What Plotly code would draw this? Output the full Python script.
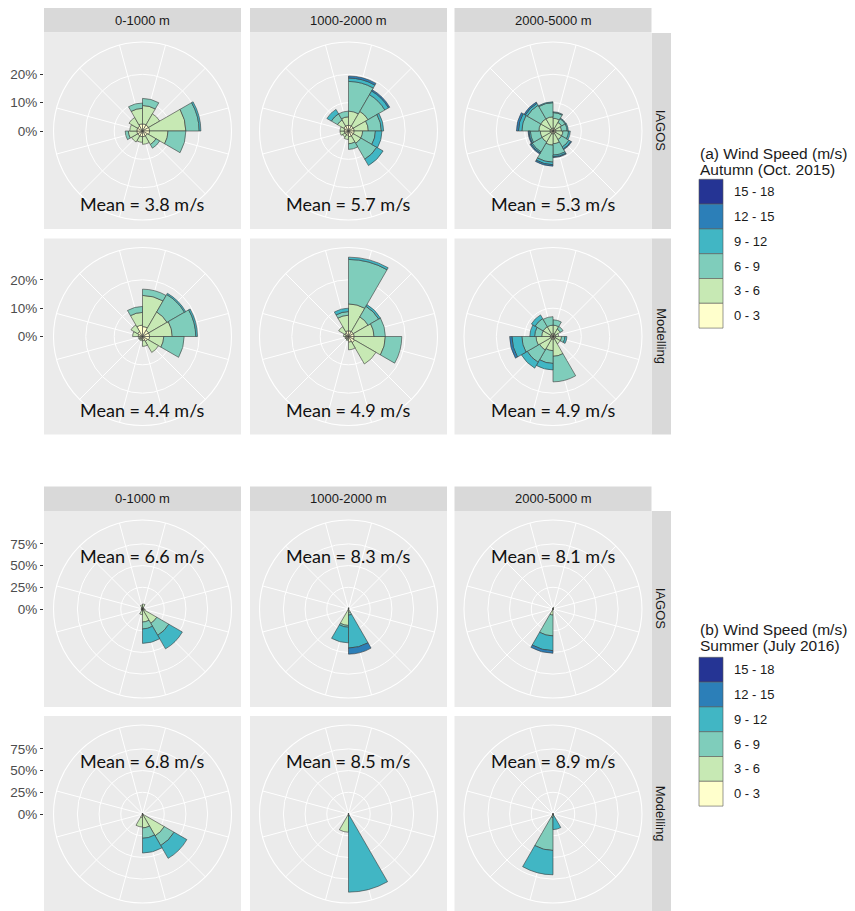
import plotly.graph_objects as go

# page body has an 8px margin: the figure is sized so that it fills the 855x911 window
OFF = 8
W, H = 855 - OFF, 911 - OFF

# ---------------- data ----------------
SPEED_BINS = ["0 - 3", "3 - 6", "6 - 9", "9 - 12", "12 - 15", "15 - 18"]
BIN_COLORS = ["#ffffcc", "#c7e9b4", "#7fcdbb", "#41b6c4", "#2c7fb8", "#253494"]
SECTOR_CENTRES = [15, 45, 75, 105, 135, 165, 195, 225, 255, 285, 315, 345]
ALTITUDES = ["0-1000 m", "1000-2000 m", "2000-5000 m"]
SOURCES = ["IAGOS", "Modelling"]

# frequency (%) : one row per direction sector, columns = speed bins (0-3 ... 15-18)
AUT_IAGOS_0_1000 = [
    [2.5, 6.5, 2.5], [2.5, 4.5], [2.5, 12.8, 4.7, 0.6], [2.5, 6.5, 6.3], [2, 3.5, 1.5], [2, 2.7],
    [2, 2], [2, 2.5], [2, 3, 1.1], [2, 2.5], [2, 3.5], [2.5, 5.5, 1.9]]
AUT_IAGOS_1000_2000 = [
    [2, 5, 10.5, 1.2, 0.7], [2, 6, 6.8, 1.5, 0.5], [2, 5, 4.6, 0.8], [2, 3, 4.5, 2.3], [2, 3, 6.5, 2.6], [2, 2.5, 2],
    [1.5, 1.5], [1.5, 1], [1.5, 1.5], [1.5, 1.5], [2, 2.5, 2.5, 1.8], [2, 3, 2]]
AUT_IAGOS_2000_5000 = [
    [1, 3.5, 2, 0.3], [1, 2.5, 1.5, 0.3], [1, 2, 2, 0.4], [1, 2.5, 2, 0.6], [1, 2.5, 3, 0.8, 0.3],
    [1, 3.5, 4, 0.6, 0.3], [1, 4, 6, 0.9, 0.5], [1, 3.5, 4, 0.5, 0.4], [1, 3.5, 3.5, 0.5, 0.3],
    [1, 4, 6, 1.2, 0.7], [1, 4, 5.5, 0.8, 0.5], [1, 4, 5, 0.3]]
AUT_MODEL_0_1000 = [
    [3.5, 11, 2.2], [2.5, 7.5, 7.1, 0.5], [2.5, 8, 8.3, 0.6], [2.5, 5, 7.2], [2, 4.5], [1.5, 2],
    [1, 0.5], [1, 0.5], [1, 0.5], [1.5, 2], [2, 2.7], [4, 4.5, 2.1]]
AUT_MODEL_1000_2000 = [
    [2, 9.5, 15.7, 0.8], [2, 6, 4.3, 0.7], [2, 7, 4], [2, 11, 5.8], [2.5, 8.7], [2, 2.7],
    [1, 0.5], [1, 0.3], [1, 0.3], [1, 0.8], [1.5, 2.5], [2, 5.5, 1.3, 1.2]]
AUT_MODEL_2000_5000 = [
    [1, 3, 1.9], [1, 2, 1.1], [1, 1], [1, 2, 1.2, 0.7], [1, 2], [1, 6, 9],
    [1, 4, 4.5, 2.3], [1, 4.5, 5, 2.4], [1, 5, 5, 3.5, 0.8], [1, 3, 2.5, 1.7], [1, 3, 3.3, 1.5], [1, 3, 3]]

SUM_IAGOS_0_1000 = [
    [2, 3.8], [1, 1], [1, 0.5], [1, 2], [2, 17, 16, 18], [2, 13, 8, 16.6],
    [1.5, 5], [1, 1], [1, 0.5], [1, 0.5], [1, 1], [2, 2.6]]
SUM_IAGOS_1000_2000 = [
    [1, 0.5], [0.5], [0.3], [0.3], [0.5], [1, 3, 3, 38, 7],
    [1, 18, 2, 18], [0.5], [0.3], [0.3], [0.3], [0.5]]
SUM_IAGOS_2000_5000 = [
    [1, 1], [0.3], [0.3], [0.3], [0.3], [0.5],
    [2, 5, 24, 17, 3], [0.3], [0.3], [0.3], [0.3], [0.5]]
SUM_MODEL_0_1000 = [
    [0.5], [0.3], [0.3], [0.5], [1, 28, 13, 17], [1, 15, 12, 17],
    [4, 11], [0.5], [0.3], [0.3], [0.3], [0.5]]
SUM_MODEL_1000_2000 = [
    [0.3], [0.3], [0.3], [0.3], [0.3], [0.5, 0.5, 1, 88],
    [1, 20], [0.3], [0.3], [0.3], [0.3], [0.3]]
SUM_MODEL_2000_5000 = [
    [0.3], [0.3], [0.3], [0.3], [0.3], [0.5, 0.5, 1, 16],
    [1, 3, 38, 28], [0.3], [0.3], [0.3], [0.3], [0.3]]

AUT_MEANS = [[3.8, 5.7, 5.3], [4.4, 4.9, 4.9]]
SUM_MEANS = [[6.6, 8.3, 8.1], [6.8, 8.5, 8.9]]
AUT_TICKS = [0, 10, 20]
SUM_TICKS = [0, 25, 50, 75]
AUT_RMAX = 31.4
SUM_RMAX = 102.5
AUT_TITLE = ["(a) Wind Speed (m/s)", "Autumn (Oct. 2015)"]
SUM_TITLE = ["(b) Wind Speed (m/s)", "Summer (July 2016)"]

# ---------------- layout constants (window pixels) ----------------
COL_CX = [142.5, 348.5, 553.0]
HALF_W, HALF_H = 98.5, 98.0
CIRC_R = 89.0
PANEL_BG = "#ebebeb"
STRIP_BG = "#d9d9d9"
TXT = "#1a1a1a"
SANS = "Liberation Sans, Arial, sans-serif"

groups = [
    dict(data=[[AUT_IAGOS_0_1000, AUT_IAGOS_1000_2000, AUT_IAGOS_2000_5000],
               [AUT_MODEL_0_1000, AUT_MODEL_1000_2000, AUT_MODEL_2000_5000]],
         means=AUT_MEANS, ticks=AUT_TICKS, rmax=AUT_RMAX, row_cy=[131.0, 336.5],
         strip=(8.0, 32.5), mean_shift=-73, title=AUT_TITLE, title_y=(153.5, 169.5), leg_top=179.3),
    dict(data=[[SUM_IAGOS_0_1000, SUM_IAGOS_1000_2000, SUM_IAGOS_2000_5000],
               [SUM_MODEL_0_1000, SUM_MODEL_1000_2000, SUM_MODEL_2000_5000]],
         means=SUM_MEANS, ticks=SUM_TICKS, rmax=SUM_RMAX, row_cy=[609.0, 814.0],
         strip=(486.5, 511.0), mean_shift=53, title=SUM_TITLE, title_y=(629.5, 645.5), leg_top=657.3),
]

def px(x):
    return (x - OFF) / W

def py(y):
    return 1 - (y - OFF) / H

fig = go.Figure()
layout = dict(width=W, height=H, margin=dict(l=0, r=0, t=0, b=0, pad=0),
              paper_bgcolor="white", plot_bgcolor="rgba(0,0,0,0)", showlegend=False,
              font=dict(family=SANS, color=TXT))
shapes, annotations = [], []

def note(text, x, y, size, family=SANS, xanchor="center", color=TXT, **kw):
    annotations.append(dict(text=text, x=px(x), y=py(y), xref="paper", yref="paper", showarrow=False,
                            xanchor=xanchor, yanchor="middle",
                            font=dict(size=size, color=color, family=family), **kw))

pk = 0
ak = 0
for g in groups:
    # top strips
    for c, alt in enumerate(ALTITUDES):
        cx = COL_CX[c]
        shapes.append(dict(type="rect", xref="paper", yref="paper", layer="below",
                           x0=px(cx - HALF_W), x1=px(cx + HALF_W), y0=py(g["strip"][1]), y1=py(g["strip"][0]),
                           fillcolor=STRIP_BG, line=dict(width=0)))
        note(alt, cx, sum(g["strip"]) / 2, 13)
    for r, src in enumerate(SOURCES):
        cy = g["row_cy"][r]
        # right strip
        shapes.append(dict(type="rect", xref="paper", yref="paper", layer="below",
                           x0=px(COL_CX[2] + HALF_W), x1=px(COL_CX[2] + HALF_W + 19.5),
                           y0=py(cy + HALF_H), y1=py(cy - HALF_H), fillcolor=STRIP_BG, line=dict(width=0)))
        note(src, COL_CX[2] + HALF_W + 9.75, cy, 13, textangle=90)
        # left tick labels via a cartesian y axis
        ak += 1
        sfx = "" if ak == 1 else str(ak)
        layout["xaxis" + sfx] = dict(domain=[px(COL_CX[0] - HALF_W), px(COL_CX[0] + HALF_W)], range=[0, 1],
                                     visible=False, anchor="y" + sfx, fixedrange=True)
        layout["yaxis" + sfx] = dict(domain=[py(cy + CIRC_R), py(cy - CIRC_R)], range=[-g["rmax"], g["rmax"]],
                                     anchor="x" + sfx, tickmode="array", tickvals=g["ticks"],
                                     ticktext=[f"{t}%" for t in g["ticks"]], ticks="outside", ticklen=3,
                                     tickcolor="#333333", tickwidth=1, showgrid=False, zeroline=False,
                                     showline=False, tickfont=dict(size=13.5, color="#4d4d4d", family=SANS),
                                     fixedrange=True)
        fig.add_trace(go.Scatter(x=[None], y=[None], xaxis="x" + sfx, yaxis="y" + sfx,
                                 showlegend=False, hoverinfo="skip"))
        for c in range(3):
            cx = COL_CX[c]
            pk += 1
            pname = "polar" if pk == 1 else f"polar{pk}"
            shapes.append(dict(type="rect", xref="paper", yref="paper", layer="below",
                               x0=px(cx - HALF_W), x1=px(cx + HALF_W), y0=py(cy + HALF_H), y1=py(cy - HALF_H),
                               fillcolor=PANEL_BG, line=dict(width=0)))
            layout[pname] = dict(
                domain=dict(x=[px(cx - CIRC_R), px(cx + CIRC_R)], y=[py(cy + CIRC_R), py(cy - CIRC_R)]),
                bgcolor="rgba(0,0,0,0)", barmode="stack", bargap=0,
                angularaxis=dict(rotation=90, direction="clockwise", thetaunit="degrees",
                                 tickmode="array", tickvals=SECTOR_CENTRES, showticklabels=False, ticks="",
                                 showgrid=True, gridcolor="white", gridwidth=1.1, showline=True,
                                 linecolor="white", linewidth=1.1, layer="below traces"),
                radialaxis=dict(range=[0, g["rmax"]], tickmode="array", tickvals=[t for t in g["ticks"] if t > 0],
                                showticklabels=False, ticks="", showline=False, gridcolor="white",
                                gridwidth=1.1, layer="below traces"),
            )
            table = [row + [0] * (len(SPEED_BINS) - len(row)) for row in g["data"][r][c]]
            for b, (bname, col) in enumerate(zip(SPEED_BINS, BIN_COLORS)):
                th = [SECTOR_CENTRES[s] for s in range(len(SECTOR_CENTRES)) if table[s][b] > 0]
                rv = [table[s][b] for s in range(len(SECTOR_CENTRES)) if table[s][b] > 0]
                if not rv:
                    continue
                fig.add_trace(go.Barpolar(r=rv, theta=th, width=[30] * len(rv), name=bname, subplot=pname,
                                          marker=dict(color=col, line=dict(color="#3a3a3a", width=0.6)),
                                          showlegend=False, hoverinfo="skip"))
            note(f"Mean = {g['means'][r][c]} m/s", cx, cy, 18, family="Lato, sans-serif",
                 color="#111111", yshift=g["mean_shift"])
    # legend
    for i, line in enumerate(g["title"]):
        note(line, 698, g["title_y"][i], 15.5, xanchor="left")
    key_h = 24.8
    for i, (bname, col) in enumerate(reversed(list(zip(SPEED_BINS, BIN_COLORS)))):
        y0 = g["leg_top"] + i * key_h
        shapes.append(dict(type="rect", xref="paper", yref="paper", x0=px(699), x1=px(723),
                           y0=py(y0 + key_h), y1=py(y0), fillcolor=col, line=dict(color="#555555", width=0.6)))
        note(bname, 732, y0 + key_h / 2, 13, xanchor="left")

layout["shapes"] = shapes
layout["annotations"] = annotations
fig.update_layout(**layout)
fig.write_html("out.html")
